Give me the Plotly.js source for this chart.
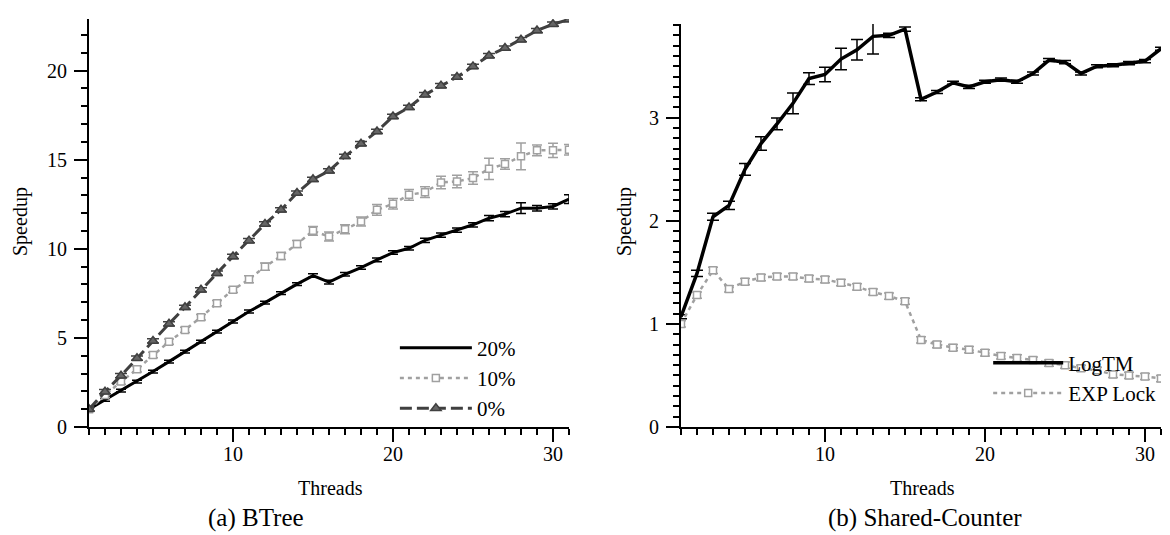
<!DOCTYPE html>
<html>
<head>
<meta charset="utf-8">
<script src="https://cdn.plot.ly/plotly-3.0.1.min.js"></script>
<style>
  html, body { margin: 0; padding: 0; background: #fff; }
  #chart { width: 1170px; height: 535px; }
</style>
</head>
<body>
<div id="chart"></div>
<script>
// Thread counts shared by both panels
const threads = [1,2,3,4,5,6,7,8,9,10,11,12,13,14,15,16,17,18,19,20,21,22,23,24,25,26,27,28,29,30,31];

// (a) BTree speedup, by percentage of updates
const btree20 = [1.0,1.52,2.04,2.55,3.11,3.67,4.23,4.79,5.35,5.92,6.48,6.98,7.51,8.02,8.5,8.13,8.57,8.95,9.38,9.79,10.03,10.48,10.77,11.05,11.35,11.72,11.95,12.28,12.28,12.38,12.79];
const btree20Err = [0.05,0.08,0.08,0.08,0.08,0.08,0.08,0.08,0.08,0.08,0.08,0.08,0.08,0.08,0.1,0.1,0.1,0.1,0.1,0.1,0.1,0.12,0.12,0.12,0.12,0.15,0.15,0.3,0.15,0.15,0.25];
const btree10 = [1.0,1.8,2.55,3.24,4.04,4.79,5.45,6.16,6.95,7.7,8.29,9.0,9.6,10.27,11.01,10.69,11.1,11.53,12.19,12.53,13.03,13.18,13.72,13.78,13.97,14.49,14.76,15.19,15.53,15.53,15.56];
const btree10Err = [0.1,0.15,0.15,0.15,0.15,0.15,0.15,0.15,0.15,0.15,0.2,0.2,0.2,0.2,0.25,0.25,0.25,0.25,0.3,0.3,0.3,0.3,0.35,0.35,0.35,0.6,0.3,0.75,0.3,0.4,0.3];
const btree0 = [1.0,1.98,2.88,3.86,4.83,5.79,6.72,7.7,8.63,9.57,10.46,11.4,12.19,13.13,13.9,14.38,15.19,15.9,16.59,17.43,17.94,18.65,19.16,19.64,20.24,20.84,21.27,21.74,22.25,22.61,22.87];
const btree0Err = [0.1,0.12,0.12,0.12,0.12,0.12,0.12,0.12,0.12,0.12,0.12,0.12,0.12,0.12,0.12,0.12,0.12,0.12,0.12,0.12,0.12,0.12,0.12,0.12,0.12,0.12,0.12,0.12,0.12,0.12,0.12];

// (b) Shared-Counter speedup
const logtm = [1.07,1.49,2.04,2.15,2.5,2.75,2.94,3.14,3.38,3.42,3.57,3.66,3.79,3.8,3.86,3.18,3.25,3.34,3.3,3.35,3.37,3.35,3.43,3.56,3.54,3.43,3.5,3.51,3.53,3.55,3.67];
const logtmErr = [0.02,0.03,0.035,0.04,0.057,0.065,0.057,0.1,0.057,0.07,0.105,0.1,0.17,0.02,0.02,0.015,0.015,0.015,0.015,0.015,0.015,0.015,0.015,0.015,0.015,0.015,0.015,0.015,0.015,0.015,0.015];
const expLock = [1.0,1.28,1.52,1.34,1.41,1.45,1.46,1.46,1.44,1.43,1.4,1.36,1.31,1.27,1.22,0.845,0.8,0.77,0.75,0.72,0.69,0.67,0.65,0.62,0.6,0.57,0.55,0.51,0.5,0.49,0.47];
const expLockErr = [0.03,0.03,0.03,0.03,0.03,0.03,0.03,0.03,0.03,0.03,0.03,0.03,0.03,0.03,0.03,0.03,0.03,0.03,0.03,0.03,0.03,0.03,0.03,0.03,0.03,0.03,0.03,0.03,0.03,0.03,0.03];

// Text labels
const leftCaption = '(a) BTree';
const rightCaption = '(b) Shared-Counter';
const xTitle = 'Threads';
const yTitle = 'Speedup';

const SERIF = 'Liberation Serif, Times New Roman, serif';
const BLACK = '#000000';
const GREY = '#a0a0a0';
const DARK = '#404040';

function errs(arr, color, cap) {
  return { type: 'data', array: arr, visible: true, color: color, thickness: 1.5, width: cap };
}

const traces = [
  {
    x: threads, y: btree20, name: '20%', type: 'scatter', mode: 'lines',
    xaxis: 'x', yaxis: 'y', legend: 'legend',
    line: { color: BLACK, width: 3 },
    error_y: errs(btree20Err, BLACK, 5)
  },
  {
    x: threads, y: btree10, name: '10%', type: 'scatter', mode: 'lines+markers',
    xaxis: 'x', yaxis: 'y', legend: 'legend',
    line: { color: GREY, width: 2.5, dash: '4px,4px' },
    marker: { symbol: 'square', size: 7, color: '#ffffff', line: { color: GREY, width: 1.5 } },
    error_y: errs(btree10Err, GREY, 5)
  },
  {
    x: threads, y: btree0, name: '0%', type: 'scatter', mode: 'lines+markers',
    xaxis: 'x', yaxis: 'y', legend: 'legend',
    line: { color: DARK, width: 3, dash: '12px,5px' },
    marker: { symbol: 'triangle-up', size: 9, color: '#666666', line: { color: DARK, width: 1.5 } },
    error_y: errs(btree0Err, DARK, 6)
  },
  {
    x: threads, y: logtm, name: 'LogTM', type: 'scatter', mode: 'lines',
    xaxis: 'x2', yaxis: 'y2', legend: 'legend2',
    line: { color: BLACK, width: 3.5 },
    error_y: errs(logtmErr, BLACK, 6)
  },
  {
    x: threads, y: expLock, name: 'EXP Lock', type: 'scatter', mode: 'lines+markers',
    xaxis: 'x2', yaxis: 'y2', legend: 'legend2',
    line: { color: GREY, width: 2.5, dash: '4px,4px' },
    marker: { symbol: 'square', size: 7, color: '#ffffff', line: { color: GREY, width: 1.5 } },
    error_y: errs(expLockErr, GREY, 5)
  }
];

const tickFont = { family: SERIF, size: 20, color: '#000' };

function xAxis(domain, anchor) {
  return {
    domain: domain, anchor: anchor, range: [1, 31],
    showline: true, linecolor: '#000', linewidth: 2,
    showgrid: false, zeroline: false,
    ticks: 'outside', ticklen: 13, tickwidth: 2, tickcolor: '#000',
    tick0: 0, dtick: 10, tickfont: tickFont, ticklabelstandoff: -5,
    minor: { ticks: 'outside', ticklen: 6, tickwidth: 2, tickcolor: '#000', dtick: 1, tick0: 0, showgrid: false }
  };
}
function yAxis(domain, anchor, range, dtick, minorDtick) {
  return {
    domain: domain, anchor: anchor, range: range,
    showline: true, linecolor: '#000', linewidth: 2,
    showgrid: false, zeroline: false,
    ticks: 'outside', ticklen: 13, tickwidth: 2, tickcolor: '#000',
    tick0: 0, dtick: dtick, tickfont: tickFont, ticklabelstandoff: 3,
    minor: { ticks: 'outside', ticklen: 6, tickwidth: 2, tickcolor: '#000', dtick: minorDtick, tick0: 0, showgrid: false }
  };
}

function label(text, x, y, size, angle) {
  return {
    text: text, x: x, y: y, xref: 'paper', yref: 'paper',
    xanchor: 'center', yanchor: 'middle', showarrow: false, textangle: angle || 0,
    font: { family: SERIF, size: size, color: '#000' }
  };
}

const layout = {
  width: 1170, height: 535,
  margin: { l: 0, r: 0, t: 0, b: 0 },
  paper_bgcolor: '#fff', plot_bgcolor: '#fff',
  font: { family: SERIF, color: '#000' },
  xaxis: xAxis([0.07607, 0.48632], 'y'),
  yaxis: yAxis([0.20187, 0.96449], 'x', [0, 22.9], 5, 1),
  xaxis2: xAxis([0.58205, 0.99231], 'y2'),
  yaxis2: yAxis([0.20187, 0.95514], 'x2', [0, 3.91], 1, 0.1),
  legend: {
    x: 0.3375, y: 0.2935, xanchor: 'left', yanchor: 'middle',
    bgcolor: 'rgba(0,0,0,0)', borderwidth: 0, itemwidth: 72,
    font: { family: SERIF, size: 21, color: '#000' }, tracegroupgap: 0
  },
  legend2: {
    x: 0.8446, y: 0.2935, xanchor: 'left', yanchor: 'middle',
    bgcolor: 'rgba(0,0,0,0)', borderwidth: 0, itemwidth: 70,
    font: { family: SERIF, size: 21, color: '#000' }, tracegroupgap: 0
  },
  annotations: [
    label(xTitle, 330 / 1170, 1 - 488 / 535, 20),
    label(xTitle, 922 / 1170, 1 - 488 / 535, 20),
    label(yTitle, 20 / 1170, 1 - 222 / 535, 20, -90),
    label(yTitle, 624 / 1170, 1 - 222 / 535, 20, -90),
    label(leftCaption, 256 / 1170, 1 - 518 / 535, 25),
    label(rightCaption, 925 / 1170, 1 - 518 / 535, 25)
  ],
  showlegend: true
};

Plotly.newPlot('chart', traces, layout, { staticPlot: true, displayModeBar: false });
</script>
</body>
</html>
